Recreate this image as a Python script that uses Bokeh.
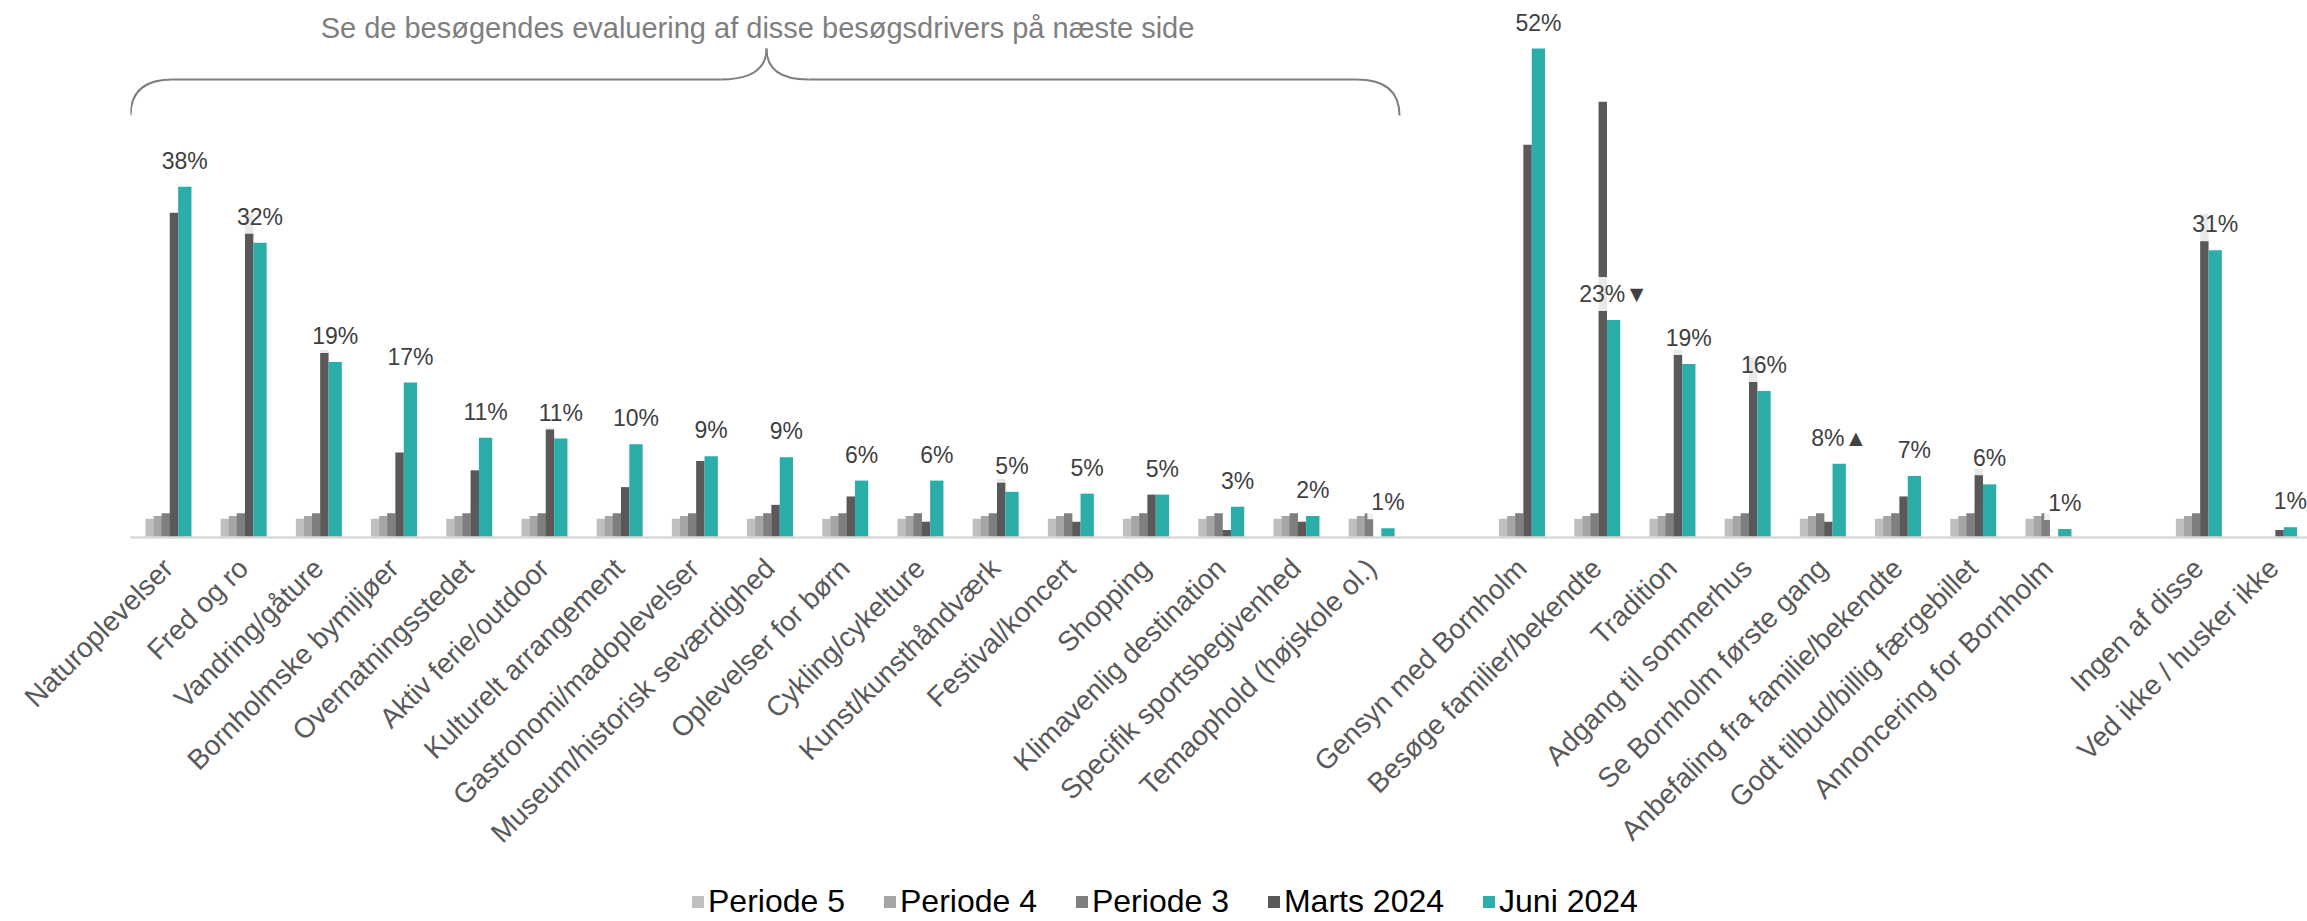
import math
from bokeh.plotting import figure
from bokeh.layouts import column
from bokeh.models import FixedTicker, Label, Legend, LegendItem, ColumnDataSource, Range1d
from bokeh.core.properties import value
from bokeh.embed import file_html
from bokeh.resources import INLINE

# ---------------- data ----------------
group1 = ["Naturoplevelser", "Fred og ro", "Vandring/gåture", "Bornholmske bymiljøer",
          "Overnatningsstedet", "Aktiv ferie/outdoor", "Kulturelt arrangement",
          "Gastronomi/madoplevelser", "Museum/historisk seværdighed", "Oplevelser for børn",
          "Cykling/cykelture", "Kunst/kunsthåndværk", "Festival/koncert", "Shopping",
          "Klimavenlig destination", "Specifik sportsbegivenhed", "Temaophold (højskole ol.)"]
group2 = ["Gensyn med Bornholm", "Besøge familier/bekendte", "Tradition",
          "Adgang til sommerhus", "Se Bornholm første gang", "Anbefaling fra familie/bekendte",
          "Godt tilbud/billig færgebillet", "Annoncering for Bornholm"]
group3 = ["Ingen af disse", "Ved ikke / husker ikke"]

series_names = ["Periode 5", "Periode 4", "Periode 3", "Marts 2024", "Juni 2024"]

periode5 = [2.0, 2.0, 2.0, 2.0, 2.0, 2.0, 2.0, 2.0, 2.0, 2.0, 2.0, 2.0, 2.0, 2.0, 2.0, 2.0, 2.0,
            2.0, 2.0, 2.0, 2.0, 2.0, 2.0, 2.0, 2.0,
            2.0, 0.0]
periode4 = [2.3, 2.3, 2.3, 2.3, 2.3, 2.3, 2.3, 2.3, 2.3, 2.3, 2.3, 2.3, 2.3, 2.3, 2.3, 2.3, 2.3,
            2.3, 2.3, 2.3, 2.3, 2.3, 2.3, 2.3, 2.3,
            2.3, 0.0]
periode3 = [2.6, 2.6, 2.6, 2.6, 2.6, 2.6, 2.6, 2.6, 2.6, 2.6, 2.6, 2.6, 2.6, 2.6, 2.6, 2.6, 2.6,
            2.6, 2.6, 2.6, 2.6, 2.6, 2.6, 2.6, 2.6,
            2.6, 0.0]
marts2024 = [34.8, 34.7, 20.1, 9.1, 7.2, 11.8, 5.4, 8.2, 3.5, 4.4, 1.7, 6.3, 1.7, 4.6, 0.8, 1.7, 0.0,
             42.1, 46.7, 20.1, 19.3, 1.7, 4.4, 7.4, 0.0,
             34.7, 0.8]
juni2024 = [37.6, 31.6, 18.8, 16.6, 10.7, 10.6, 10.0, 8.7, 8.6, 6.1, 6.1, 4.9, 4.7, 4.6, 3.3, 2.3, 1.0,
            52.4, 23.3, 18.6, 15.7, 7.9, 6.6, 5.7, 0.9,
            30.8, 1.1]
juni_marks = ["", "", "", "", "", "", "", "", "", "", "", "", "", "", "", "", "",
              "", "▼", "", "", "▲", "", "", "",
              "", ""]

title_text = "Se de besøgendes evaluering af disse besøgsdrivers på næste side"

# ---------------- layout constants ----------------
FONT = "Liberation Sans"
FIG_W = 2307
MAIN_H, LEG_H = 878, 43
BORDER_L, BORDER_B = 130, 341
FRAME_W = FIG_W - BORDER_L
FRAME_H = MAIN_H - BORDER_B
PX_SLOT = 75.2          # px per category slot
PX_PCT = 9.33           # px per percentage point

def xpx(px):  # canvas px -> data x
    return -0.5 + (px - BORDER_L) / PX_SLOT

def ypx(py):  # canvas px -> data y
    return (FRAME_H - py) / PX_PCT

categories = group1 + group2 + group3
positions = []
slot = 0
for g in [group1, group2, group3]:
    for _ in g:
        positions.append(slot)
        slot += 1
    slot += 1  # gap between groups

colors = ["#BFBFBF", "#A6A6A6", "#7F7F7F", "#595959", "#2BADAA"]
offsets = [-0.245, -0.137, -0.031, 0.078, 0.222]
widths = [0.112, 0.112, 0.112, 0.112, 0.177]
series_vals = [periode5, periode4, periode3, marts2024, juni2024]

p = figure(width=FIG_W, height=MAIN_H, output_backend="svg", toolbar_location=None,
           title=None,
           x_range=Range1d(-0.5, -0.5 + FRAME_W / PX_SLOT),
           y_range=Range1d(0, FRAME_H / PX_PCT),
           min_border_left=BORDER_L, min_border_right=0, min_border_top=0,
           min_border_bottom=BORDER_B)
p.outline_line_color = None
p.xgrid.visible = False
p.ygrid.visible = False
p.yaxis.visible = False
p.background_fill_color = "white"
p.border_fill_color = "white"

for name, vals, col, off, w in zip(series_names, series_vals, colors, offsets, widths):
    src = ColumnDataSource(dict(x=[pos + off for pos in positions], top=vals))
    p.vbar(x="x", top="top", width=w, bottom=0, source=src,
           fill_color=col, line_color=None)

# data labels for Juni 2024
lab_src = ColumnDataSource(dict(
    x=[pos + offsets[4] for pos in positions],
    y=[v + 9 / PX_PCT for v in juni2024],
    t=[f"{round(v)}%{m}" for v, m in zip(juni2024, juni_marks)],
))
p.text(x="x", y="y", text="t", source=lab_src, text_align="center", text_baseline="bottom",
       text_font=value(FONT), text_font_size="23px", text_color="#404040",
       background_fill_color="white", background_fill_alpha=0.87, padding=4)

# x axis
ax = p.xaxis[0]
ax.ticker = FixedTicker(ticks=positions)
ax.major_label_overrides = {pos: c for pos, c in zip(positions, categories)}
ax.major_label_orientation = math.pi / 4
ax.major_label_text_font = FONT
ax.major_label_text_font_size = "28px"
ax.major_label_text_color = "#595959"
ax.major_label_standoff = 20
ax.major_tick_line_color = None
ax.minor_tick_line_color = None
ax.axis_line_color = "#D9D9D9"
ax.axis_line_width = 2.5

# brace + heading
bc = "#7F7F7F"
p.quadratic(x0=[xpx(130), xpx(720), xpx(766), xpx(1356)],
            y0=[ypx(115), ypx(79), ypx(48), ypx(79)],
            x1=[xpx(172), xpx(766), xpx(808), xpx(1399)],
            y1=[ypx(79), ypx(48), ypx(79), ypx(115)],
            cx=[xpx(130), xpx(766), xpx(766), xpx(1399)],
            cy=[ypx(79), ypx(79), ypx(79), ypx(79)],
            line_color=bc, line_width=2)
p.segment(x0=[xpx(172), xpx(808)], y0=[ypx(79), ypx(79)],
          x1=[xpx(720), xpx(1356)], y1=[ypx(79), ypx(79)],
          line_color=bc, line_width=2)
p.add_layout(Label(x=xpx(757), y=ypx(27), text=title_text, text_align="center",
                   text_baseline="middle", text_font=FONT, text_font_size="29px",
                   text_color="#7F7F7F"))

# legend strip (separate small figure below the chart)
lg = figure(width=FIG_W, height=LEG_H, output_backend="svg", toolbar_location=None,
            title=None, x_range=Range1d(0, 1), y_range=Range1d(0, 1),
            min_border_left=0, min_border_right=0, min_border_top=0, min_border_bottom=0)
lg.axis.visible = False
lg.grid.visible = False
lg.outline_line_color = None
lg.background_fill_color = "white"
lg.border_fill_color = "white"
leg_renderers = []
for name, col in zip(series_names, colors):
    # zero-height proxy renderer that only supplies the legend swatch
    leg_renderers.append(lg.vbar(x=[0.5], top=[0], bottom=[0], width=0.01,
                                 fill_color=col, line_color=None))
legend = Legend(items=[LegendItem(label=n, renderers=[r]) for n, r in zip(series_names, leg_renderers)],
                orientation="horizontal", location=(560, 1),
                glyph_width=15, glyph_height=15, label_standoff=3, spacing=37,
                padding=0, margin=0, border_line_color=None, background_fill_alpha=0,
                label_text_font=FONT, label_text_font_size="32px", label_text_color="#000000")
lg.add_layout(legend, "center")

layout = column(p, lg, spacing=0)
open("out.html", "w").write(file_html(layout, INLINE))
